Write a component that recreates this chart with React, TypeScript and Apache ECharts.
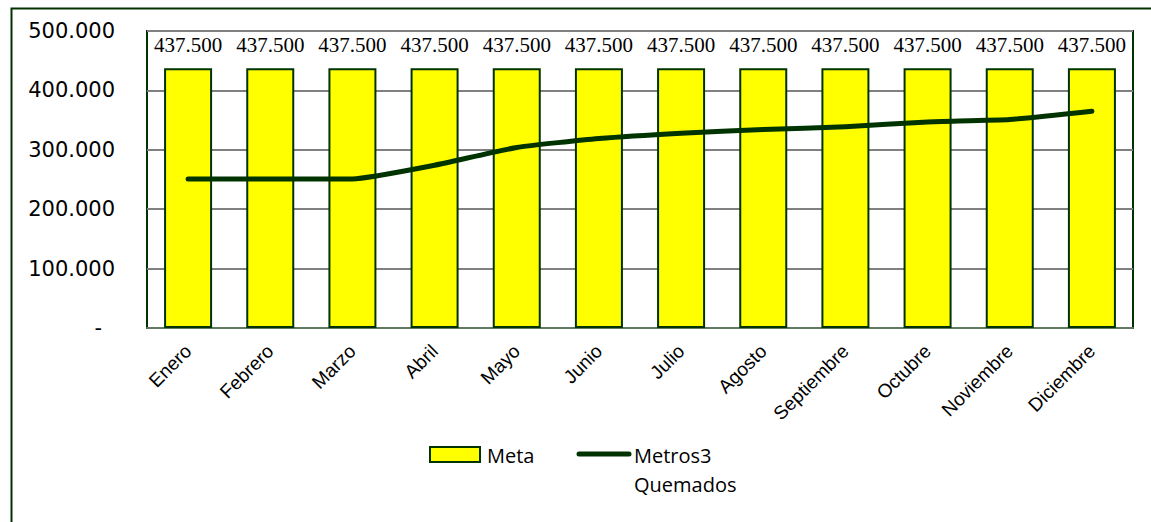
import React, { useEffect, useRef } from "react";
import * as echarts from "echarts";

const months = ["Enero", "Febrero", "Marzo", "Abril", "Mayo", "Junio", "Julio", "Agosto", "Septiembre", "Octubre", "Noviembre", "Diciembre"];
const meta = [437500, 437500, 437500, 437500, 437500, 437500, 437500, 437500, 437500, 437500, 437500, 437500];
const metrosQuemados = [251000, 251000, 251000, 274000, 304000, 319000, 328000, 334000, 339000, 347000, 351000, 365000];
const yTicks = [0, 100000, 200000, 300000, 400000, 500000];

const fmt = (v: number) => {
  const s = Math.round(v).toString();
  return s.replace(/\B(?=(\d{3})+(?!\d))/g, ".");
};

export default function App() {
  const ref = useRef<HTMLDivElement>(null);
  useEffect(() => {
    if (!ref.current) return;
    const chart = echarts.init(ref.current, undefined, { renderer: "svg" });
    chart.setOption({
      animation: false,
      backgroundColor: "#ffffff",
      grid: { left: 147, right: 18, top: 31, bottom: 194, show: true, borderColor: "#003300", borderWidth: 2, backgroundColor: "transparent" },
      xAxis: {
        type: "category",
        data: months,
        axisLine: { lineStyle: { color: "#5f7a5f", width: 2 } },
        axisTick: { show: false },
        axisLabel: { rotate: 45, margin: 20, fontFamily: "Liberation Sans, Arial", fontSize: 19, color: "#000" },
      },
      yAxis: {
        type: "value",
        min: yTicks[0],
        max: yTicks[yTicks.length - 1],
        interval: 100000,
        axisLine: { show: false },
        axisTick: { show: false },
        splitLine: { lineStyle: { color: "#808080", width: 2 } },
        axisLabel: {
          margin: 32,
          fontFamily: "DejaVu Sans, Verdana",
          fontSize: 21,
          color: "#000",
          formatter: (v: number) => (v === 0 ? "{d|-}" : fmt(v)),
          rich: { d: { padding: [0, 13, 0, 0], fontFamily: "DejaVu Sans, Verdana", fontSize: 21, color: "#000" } },
        },
      },
      series: [
        {
          name: "Meta",
          type: "bar",
          data: meta,
          barWidth: 48,
          itemStyle: { color: "#ffff00", borderColor: "#003300", borderWidth: 2 },
          label: {
            show: true,
            position: "top",
            distance: 13,
            fontFamily: "Liberation Serif, Times New Roman, serif",
            fontSize: 21,
            color: "#000",
            formatter: (p: any) => fmt(p.value),
          },
          z: 2,
        },
        {
          name: "Metros3 Quemados",
          type: "line",
          data: metrosQuemados,
          showSymbol: false,
          symbol: "none",
          smooth: 0.15,
          lineStyle: { color: "#003300", width: 5, cap: "round", join: "round" },
          z: 3,
        },
      ],
      graphic: [
        { type: "rect", left: 9, top: 6, shape: { x: 0, y: 0, width: 1200, height: 600 }, style: { fill: "none", stroke: "#003300", lineWidth: 2 }, silent: true },
        { type: "rect", shape: { x: 430, y: 447, width: 50, height: 15 }, style: { fill: "#ffff00", stroke: "#003300", lineWidth: 2 } },
        { type: "text", x: 487, y: 455, style: { text: "Meta", fontFamily: "Open Sans, Noto Sans", fontSize: 20, fill: "#000", verticalAlign: "middle" } },
        { type: "line", shape: { x1: 579, y1: 454, x2: 629, y2: 454 }, style: { stroke: "#003300", lineWidth: 5, lineCap: "round" } },
        { type: "text", x: 634, y: 455, style: { text: "Metros3", fontFamily: "Open Sans, Noto Sans", fontSize: 20, fill: "#000", verticalAlign: "middle" } },
        { type: "text", x: 634, y: 484, style: { text: "Quemados", fontFamily: "Open Sans, Noto Sans", fontSize: 20, fill: "#000", verticalAlign: "middle" } },
      ],
    });
    return () => chart.dispose();
  }, []);
  return <div ref={ref} style={{ position: "fixed", left: 0, top: 0, width: 1151, height: 522 }} />;
}
